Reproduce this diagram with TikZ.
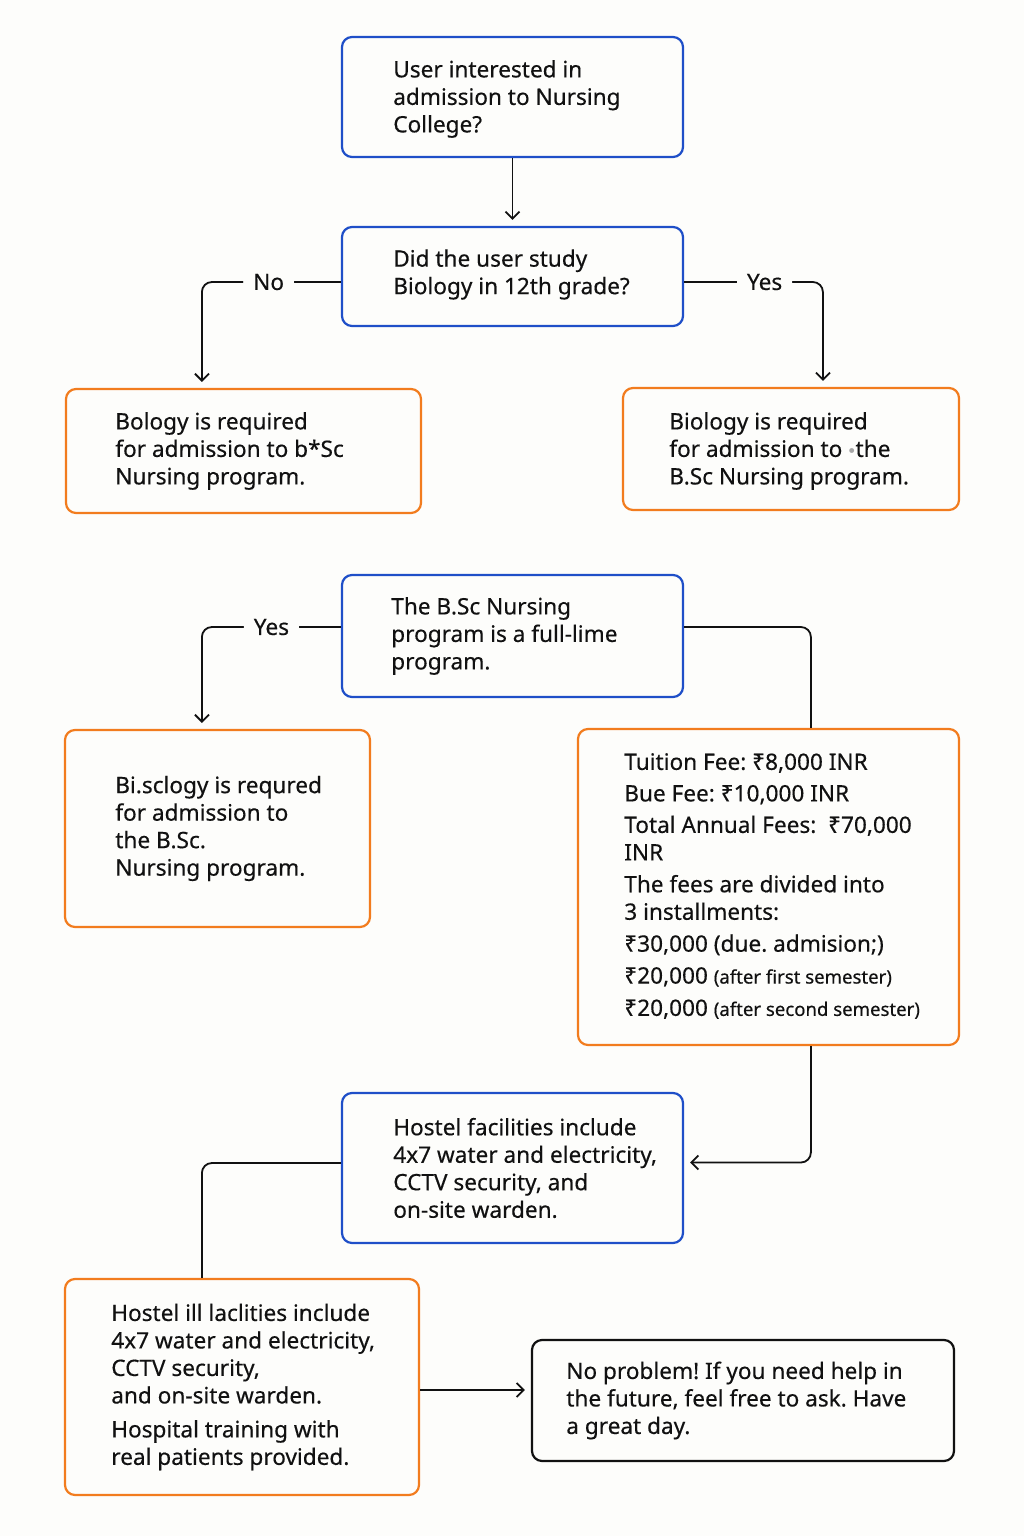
\documentclass[tikz,border=0pt]{standalone}
\usepackage{fontspec}
\setmainfont{Noto Sans}[FakeBold=0.35]
\usetikzlibrary{arrows.meta,calc}
\definecolor{bblue}{HTML}{1F4FC8}
\definecolor{borange}{HTML}{F27C1E}
\definecolor{bg}{HTML}{FDFDFB}
\definecolor{ink}{HTML}{111111}
\frenchspacing
\begin{document}
\begin{tikzpicture}[x=0.5pt,y=-0.5pt,
  box/.style={draw, line width=1.1pt, rounded corners=5pt, fill=bg, inner sep=0pt},
  bluebox/.style={box, draw=bblue},
  orangebox/.style={box, draw=borange},
  blackbox/.style={box, draw=ink},
  txt/.style={anchor=west, align=left, inner sep=0pt, text=ink, font=\fontsize{11.3}{13.75}\selectfont},
  conn/.style={draw=ink, line width=0.9pt, rounded corners=5pt},
  arr/.style={-{Straight Barb[length=3.5pt,width=7pt]}, shorten >=3pt},
  lab/.style={fill=bg, inner xsep=5pt, inner ysep=1pt, text=ink, font=\fontsize{11.3}{13}\selectfont}
]
\fill[bg] (0,0) rectangle (1024,1536);
\useasboundingbox (0,0) rectangle (1024,1536);

% boxes
\node[bluebox, minimum width=170.5pt, minimum height=60pt] (b1) at (512.5,97) {};
\node[txt] (t1) at ($(b1.west)+(52,2)$) {User interested in\\admission to Nursing\\College?};

\node[bluebox, minimum width=170.5pt, minimum height=49.5pt] (b2) at (512.5,276.5) {};
\node[txt] (t2) at ($(b2.west)+(52,-2)$) {Did the user study\\Biology in 12th grade?};

\node[orangebox, minimum width=177.5pt, minimum height=62pt] (b3) at (243.5,451) {};
\node[txt] (t3) at ($(b3.west)+(50,0)$) {Bology is required\\for admission to b*Sc\\Nursing program.};

\node[orangebox, minimum width=168pt, minimum height=61pt] (b4) at (791,449) {};
\node[txt] (t4) at ($(b4.west)+(47,2)$) {Biology is required\\for admission to {\color{gray!70}\raisebox{0.25ex}{\tiny$\bullet$}}the\\B.Sc Nursing program.};

\node[bluebox, minimum width=170.5pt, minimum height=61pt] (b5) at (512.5,636) {};
\node[txt] (t5) at ($(b5.west)+(50,0)$) {The B.Sc Nursing\\program is a full-lime\\program.};

\node[orangebox, minimum width=152.5pt, minimum height=98.5pt] (b6) at (217.5,828.5) {};
\node[txt] (t6) at ($(b6.west)+(51,0)$) {Bi.sclogy is requred\\for admission to\\the B.Sc.\\Nursing program.};

\node[orangebox, minimum width=190.5pt, minimum height=158pt] (b7) at (768.5,887) {};
\node[txt] (t7) at ($(b7.west)+(47,-1)$) {Tuition Fee: ₹8,000 INR\\[2pt]
Bue Fee: ₹10,000 INR\\[2pt]
Total Annual Fees:\ \ ₹70,000\\
INR\\[2.2pt]
The fees are divided into\\
3 installments:\\[2.2pt]
₹30,000 (due. admision;)\\[2.2pt]
₹20,000 {\fontsize{9.3}{11}\selectfont(after first semester)}\\[2.4pt]
₹20,000 {\fontsize{9.3}{11}\selectfont(after second semester)}};

\node[bluebox, minimum width=170.5pt, minimum height=75pt] (b8) at (512.5,1168) {};
\node[txt] (t8) at ($(b8.west)+(52,0)$) {Hostel facilities include\\4x7 water and electricity,\\CCTV security, and\\on-site warden.};

\node[orangebox, minimum width=177pt, minimum height=108pt] (b9) at (242,1387) {};
\node[txt] (t9) at ($(b9.west)+(47,0)$) {Hostel ill laclities include\\4x7 water and electricity,\\CCTV security,\\and on-site warden.\\[3.2pt]
Hospital training with\\real patients provided.};

\node[blackbox, minimum width=211pt, minimum height=60.5pt] (b10) at (743,1400.5) {};
\node[txt] (t10) at ($(b10.west)+(35,0)$) {No problem! If you need help in\\the future, feel free to ask. Have\\a great day.};

% connectors
\coordinate (c9) at ($(b9.east)+(0,3)$);
\draw[conn,arr] (b1.south) -- (b2.north);
\draw[conn,arr] ($(b2.west)+(0,5.5)$) -| node[lab,pos=0.26]{No} ($(b3.north west)+(137,0)$);
\draw[conn,arr] ($(b2.east)+(0,5.5)$) -| node[lab,pos=0.29]{Yes} ($(b4.north west)+(201,0)$);
\draw[conn,arr] ($(b5.west)+(0,-9)$) -| node[lab,pos=0.25]{Yes} ($(b6.north west)+(138,0)$);
\draw[conn] ($(b5.east)+(0,-9)$) -| ($(b7.north west)+(234,0)$);
\draw[conn,arr] ($(b7.south west)+(234,0)$) |- ($(b8.east)+(0,-5.5)$);
\draw[conn] ($(b8.west)+(0,-5)$) -| ($(b9.north west)+(138,0)$);
\draw[conn,arr] (c9) -- (c9 -| b10.west);
\end{tikzpicture}
\end{document}
